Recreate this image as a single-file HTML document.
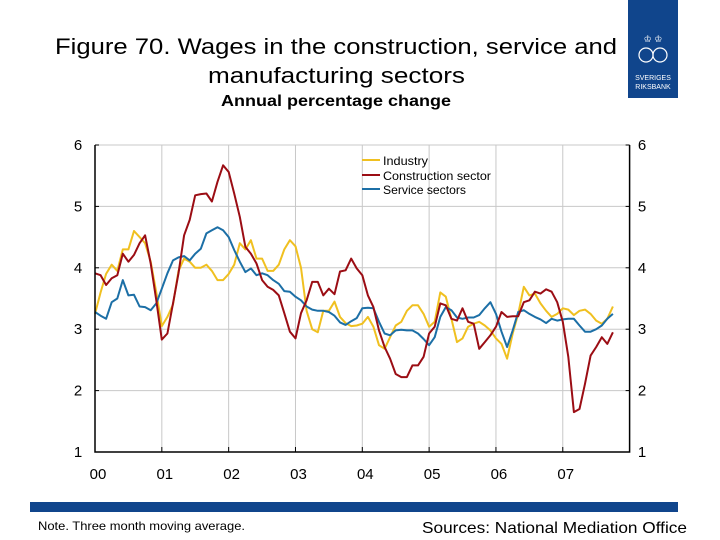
<!DOCTYPE html>
<html><head><meta charset="utf-8"><style>
body{margin:0;background:#fff;font-family:"Liberation Sans",sans-serif;}
#wrap{position:relative;width:720px;height:540px;overflow:hidden;}
</style></head><body>
<div id="wrap">
<svg id="svg" width="720" height="540" xmlns="http://www.w3.org/2000/svg">
<text x="55" y="54" font-size="22" textLength="562" lengthAdjust="spacingAndGlyphs" font-family="Liberation Sans">Figure 70. Wages in the construction, service and</text>
<text x="208" y="83" font-size="22" textLength="257" lengthAdjust="spacingAndGlyphs" font-family="Liberation Sans">manufacturing sectors</text>
<text x="221" y="106" font-size="16" font-weight="bold" textLength="230" lengthAdjust="spacingAndGlyphs" font-family="Liberation Sans">Annual percentage change</text>
<g>
<rect x="628" y="0" width="50" height="98" fill="#10458c"/>
<text x="653" y="80" text-anchor="middle" font-size="7" fill="#fff" font-family="Liberation Sans">SVERIGES</text>
<text x="653" y="89" text-anchor="middle" font-size="7" fill="#fff" font-family="Liberation Sans">RIKSBANK</text>
<circle cx="646" cy="55" r="7" fill="none" stroke="#fff" stroke-width="1.2"/>
<circle cx="660" cy="55" r="7" fill="none" stroke="#fff" stroke-width="1.2"/>
<text x="653" y="42" text-anchor="middle" font-size="9" fill="#fff">♔ ♔</text>
</g>
<g id="grid"></g>
<g id="series"></g>
<g id="axes"></g>
<g font-size="12" font-family="Liberation Sans">
<line x1="362" y1="160" x2="380" y2="160" stroke="#f0c020" stroke-width="2"/><text x="383" y="165" textLength="45" lengthAdjust="spacingAndGlyphs">Industry</text>
<line x1="362" y1="175" x2="380" y2="175" stroke="#9b0d14" stroke-width="2"/><text x="383" y="180" textLength="108" lengthAdjust="spacingAndGlyphs">Construction sector</text>
<line x1="362" y1="189" x2="380" y2="189" stroke="#1c6fa6" stroke-width="2"/><text x="383" y="194" textLength="83" lengthAdjust="spacingAndGlyphs">Service sectors</text>
</g>
<rect x="30" y="502" width="648" height="10" fill="#10458c"/>
<text x="38" y="530" font-size="12" textLength="207" lengthAdjust="spacingAndGlyphs" font-family="Liberation Sans">Note. Three month moving average.</text>
<text x="422" y="533" font-size="16" textLength="265" lengthAdjust="spacingAndGlyphs" font-family="Liberation Sans">Sources: National Mediation Office</text>
</svg>
</div>
<script>
const yearLabels=["00","01","02","03","04","05","06","07"];
const yTicks=[1,2,3,4,5,6];
const industry=[3.25,3.6,3.9,4.05,3.95,4.3,4.3,4.6,4.5,4.4,4.1,3.6,3.05,3.2,3.4,3.95,4.15,4.1,4.0,4.0,4.05,3.95,3.8,3.8,3.9,4.05,4.4,4.3,4.45,4.15,4.15,3.95,3.95,4.05,4.3,4.45,4.35,4.0,3.3,3.0,2.95,3.3,3.3,3.45,3.2,3.1,3.05,3.06,3.09,3.2,3.04,2.74,2.68,2.87,3.06,3.12,3.3,3.39,3.39,3.25,3.04,3.12,3.6,3.53,3.17,2.79,2.85,3.04,3.09,3.12,3.06,2.98,2.85,2.76,2.52,2.93,3.25,3.69,3.55,3.58,3.42,3.3,3.2,3.25,3.34,3.32,3.23,3.3,3.32,3.25,3.14,3.09,3.17,3.37];
const construction=[3.91,3.88,3.72,3.83,3.88,4.23,4.1,4.21,4.4,4.53,4.07,3.47,2.83,2.93,3.42,3.91,4.53,4.78,5.18,5.2,5.21,5.08,5.4,5.67,5.56,5.21,4.83,4.34,4.23,4.07,3.8,3.69,3.64,3.55,3.26,2.96,2.85,3.26,3.47,3.77,3.77,3.55,3.66,3.57,3.94,3.96,4.15,3.99,3.88,3.55,3.36,2.98,2.71,2.52,2.27,2.22,2.22,2.41,2.41,2.55,2.93,3.04,3.42,3.39,3.17,3.14,3.34,3.12,3.09,2.68,2.79,2.9,3.04,3.28,3.2,3.21,3.21,3.44,3.47,3.61,3.58,3.65,3.61,3.44,3.12,2.55,1.65,1.7,2.11,2.57,2.71,2.87,2.76,2.95];
const service=[3.28,3.22,3.17,3.44,3.5,3.8,3.55,3.56,3.37,3.36,3.31,3.42,3.66,3.91,4.12,4.17,4.19,4.12,4.23,4.31,4.56,4.61,4.66,4.61,4.5,4.29,4.1,3.93,3.99,3.88,3.91,3.88,3.8,3.74,3.62,3.61,3.53,3.47,3.37,3.32,3.3,3.3,3.28,3.22,3.11,3.07,3.13,3.18,3.34,3.35,3.34,3.12,2.93,2.9,2.98,2.99,2.98,2.98,2.93,2.84,2.74,2.87,3.2,3.36,3.31,3.19,3.17,3.19,3.19,3.23,3.34,3.44,3.25,2.96,2.71,2.98,3.28,3.31,3.25,3.2,3.16,3.1,3.17,3.14,3.16,3.17,3.17,3.06,2.96,2.96,3.0,3.06,3.17,3.25];
const X0=95,X1=629.6,Y6=145,Y1=452;
const xm=i=>X0+(X1-X0)*i/96;
const yv=v=>Y1-(v-1)*(Y1-Y6)/5;
const NS="http://www.w3.org/2000/svg";
function mk(t,a,p){const e=document.createElementNS(NS,t);for(const k in a)e.setAttribute(k,a[k]);p.appendChild(e);return e;}
const grid=document.getElementById('grid'),axes=document.getElementById('axes'),ser=document.getElementById('series');
yTicks.forEach(v=>{
 if(v>1){const g=mk('line',{x1:X0,x2:X1,y1:yv(v),y2:yv(v),stroke:'#c8c8c8','stroke-width':1},grid);
 
 }
 const t1=mk('text',{x:78,y:yv(v)+5,'font-size':15,'text-anchor':'middle','font-family':'Liberation Sans'},axes);t1.textContent=v;
 
 
 const t2=mk('text',{x:642,y:yv(v)+5,'font-size':15,'text-anchor':'middle','font-family':'Liberation Sans'},axes);t2.textContent=v;
 
 
 mk('line',{x1:X0,x2:X0+4,y1:yv(v),y2:yv(v),stroke:'#000'},axes);
 mk('line',{x1:X1-4,x2:X1,y1:yv(v),y2:yv(v),stroke:'#000'},axes);
});
yearLabels.forEach((l,k)=>{
 const x=xm(k*12);
 if(k>0){const g=mk('line',{x1:x,x2:x,y1:Y6,y2:Y1,stroke:'#c8c8c8'},grid);
 
 }
 mk('line',{x1:x,x2:x,y1:Y1,y2:Y1-5,stroke:'#000'},axes);
 const t=mk('text',{x:x+3,y:479,'font-size':15,'text-anchor':'middle','font-family':'Liberation Sans'},axes);t.textContent=l;
 
 
});
mk('line',{x1:X0,x2:X1,y1:Y6,y2:Y6,stroke:'#c8c8c8'},grid);
const ax=mk('path',{d:`M${X0} ${Y6}V${Y1}H${X1}V${Y6}`,fill:'none',stroke:'#000','stroke-width':1.5},axes);


[[industry,'#f0c020','industry-line'],[service,'#1c6fa6','service-line'],[construction,'#9b0d14','construction-line']].forEach(([d,c,n])=>{
 const p=mk('polyline',{points:d.map((v,i)=>xm(i).toFixed(1)+','+yv(v).toFixed(1)).join(' '),fill:'none',stroke:c,'stroke-width':2,'stroke-linejoin':'round'},ser);
 
 
});
</script>
</body></html>
